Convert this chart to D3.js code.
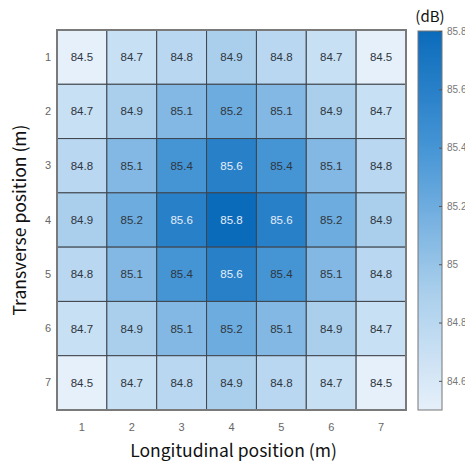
<!DOCTYPE html>
<html>
<head>
<meta charset="utf-8">
<script src="https://cdn.jsdelivr.net/npm/d3@7"></script>
<style>
  body { margin: 0; background: #fff; }
  svg { display: block; }
</style>
</head>
<body>
<svg id="chart" width="465" height="465"></svg>
<script>
// grid of measured levels, rows = transverse 1..7, cols = longitudinal 1..7
var longitudinal = [1, 2, 3, 4, 5, 6, 7];
var transverse = [1, 2, 3, 4, 5, 6, 7];
var levels = [
    [84.5, 84.7, 84.8, 84.9, 84.8, 84.7, 84.5],
    [84.7, 84.9, 85.1, 85.2, 85.1, 84.9, 84.7],
    [84.8, 85.1, 85.4, 85.6, 85.4, 85.1, 84.8],
    [84.9, 85.2, 85.6, 85.8, 85.6, 85.2, 84.9],
    [84.8, 85.1, 85.4, 85.6, 85.4, 85.1, 84.8],
    [84.7, 84.9, 85.1, 85.2, 85.1, 84.9, 84.7],
    [84.5, 84.7, 84.8, 84.9, 84.8, 84.7, 84.5]
];
var colorTicks = [84.6, 84.8, 85, 85.2, 85.4, 85.6, 85.8];

!function () {
    var svg = d3.select("#chart");
    var mLeft = 57, mRight = 406, mTop = 30, mBottom = 410;
    var narrow = "'Liberation Sans Narrow', 'Liberation Sans', Arial, sans-serif";

    var x = d3.scaleBand().domain(longitudinal).range([mLeft, mRight]);
    var y = d3.scaleBand().domain(transverse).range([mTop, mBottom]);
    var color = d3.scaleLinear()
        .domain([84.5, 84.9, 85.4, 85.8])
        .range(["#e6f0fa", "#aacfec", "#4595d5", "#0b6bbb"])
        .interpolate(d3.interpolateRgb);

    var cells = [];
    levels.forEach(function (row, i) {
        row.forEach(function (v, j) {
            cells.push({ r: transverse[i], c: longitudinal[j], v: v });
        });
    });

    var g = svg.append("g");
    g.selectAll("rect.cell").data(cells).enter().append("rect")
        .attr("class", "cell")
        .attr("x", function (d) { return x(d.c); })
        .attr("y", function (d) { return y(d.r); })
        .attr("width", x.bandwidth())
        .attr("height", y.bandwidth())
        .attr("fill", function (d) { return color(d.v); })
        .attr("stroke", "#3f444c")
        .attr("stroke-width", 1);

    g.selectAll("text.val").data(cells).enter().append("text")
        .attr("class", "val")
        .attr("x", function (d) { return x(d.c) + x.bandwidth() / 2; })
        .attr("y", function (d) { return y(d.r) + y.bandwidth() / 2; })
        .attr("text-anchor", "middle")
        .attr("dominant-baseline", "central")
        .attr("font-family", narrow)
        .attr("font-size", 11.5)
        .attr("fill", function (d) { return d.v >= 85.55 ? "#e4eef8" : "#2f3640"; })
        .text(function (d) { return d3.format(".1f")(d.v); });

    // outer frame
    svg.append("rect")
        .attr("x", mLeft).attr("y", mTop)
        .attr("width", mRight - mLeft).attr("height", mBottom - mTop)
        .attr("fill", "none").attr("stroke", "#7a7a7a").attr("stroke-width", 2);

    // axes (labels only, no ticks)
    var xAxis = svg.append("g")
        .attr("transform", "translate(0," + (mBottom + 13) + ")")
        .call(d3.axisBottom(x).tickSize(0).tickPadding(0));
    xAxis.select(".domain").remove();
    xAxis.selectAll("text").attr("font-family", narrow).attr("font-size", 11).attr("fill", "#666");

    var yAxis = svg.append("g")
        .attr("transform", "translate(" + (mLeft - 6) + ",0)")
        .call(d3.axisLeft(y).tickSize(0).tickPadding(0));
    yAxis.select(".domain").remove();
    yAxis.selectAll("text").attr("font-family", narrow).attr("font-size", 11).attr("fill", "#666");

    svg.append("text")
        .attr("x", (mLeft + mRight) / 2 + 2).attr("y", 457)
        .attr("text-anchor", "middle")
        .attr("font-family", "'Noto Sans CJK KR', 'Noto Sans', sans-serif")
        .attr("font-size", 17.5)
        .attr("fill", "#111")
        .text("Longitudinal position (m)");

    svg.append("text")
        .attr("transform", "translate(26," + ((mTop + mBottom) / 2) + ") rotate(-90)")
        .attr("text-anchor", "middle")
        .attr("font-family", "'Noto Sans CJK KR', 'Noto Sans', sans-serif")
        .attr("font-size", 17.5)
        .attr("fill", "#111")
        .text("Transverse position (m)");

    // colour bar
    var cbX = 418, cbW = 24;
    var cbScale = d3.scaleLinear().domain([84.5, 85.8]).range([mBottom, mTop + 1]);
    var grad = svg.append("defs").append("linearGradient").attr("id", "cbgrad")
        .attr("x1", 0).attr("y1", 1).attr("x2", 0).attr("y2", 0);
    d3.range(0, 1.0001, 0.05).forEach(function (t) {
        grad.append("stop").attr("offset", t)
            .attr("stop-color", color(84.5 + t * (85.8 - 84.5)));
    });
    svg.append("rect")
        .attr("x", cbX).attr("y", cbScale(85.8))
        .attr("width", cbW).attr("height", cbScale(84.5) - cbScale(85.8))
        .attr("fill", "url(#cbgrad)")
        .attr("stroke", "#777").attr("stroke-width", 1);

    var cbAxis = svg.append("g")
        .attr("transform", "translate(" + (cbX + cbW) + ",0)")
        .call(d3.axisRight(cbScale).tickValues(colorTicks).tickSize(-3).tickPadding(5)
            .tickFormat(function (d) { return String(+d.toFixed(1)); }));
    cbAxis.select(".domain").remove();
    cbAxis.selectAll("line").attr("stroke", "#555");
    cbAxis.selectAll("text").attr("font-family", narrow).attr("font-size", 10).attr("fill", "#777")
        .attr("text-anchor", "start");

    svg.append("text")
        .attr("x", 430).attr("y", 22)
        .attr("text-anchor", "middle")
        .attr("font-family", "'Noto Sans CJK KR', 'Noto Sans', sans-serif")
        .attr("font-size", 15)
        .attr("fill", "#111")
        .text("(dB)");
}();
</script>
</body>
</html>
